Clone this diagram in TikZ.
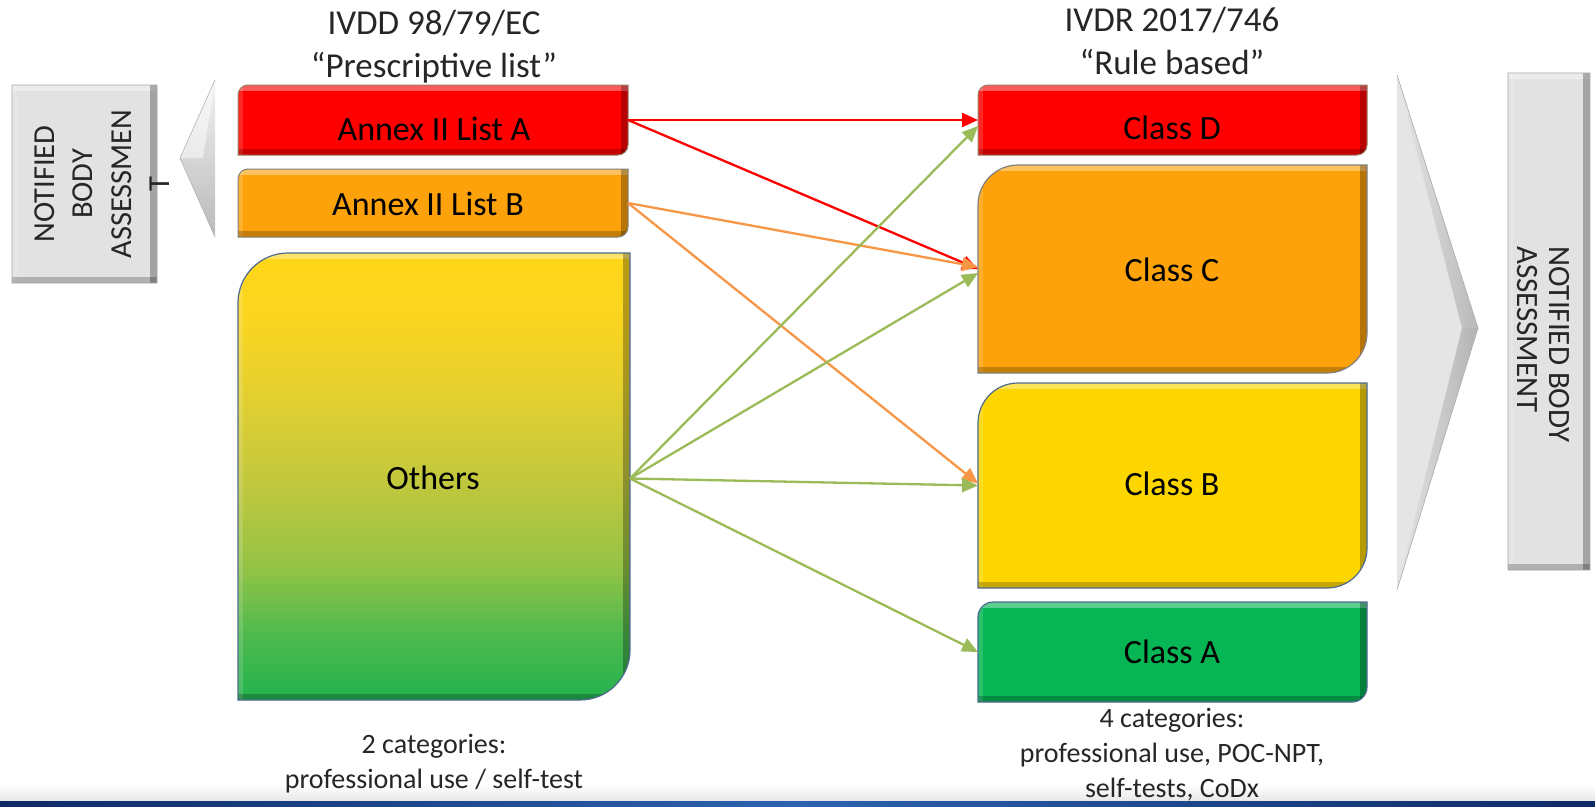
\documentclass[tikz,border=0pt]{standalone}
\usepackage{fontspec}
\setmainfont{Carlito}
\usetikzlibrary{arrows.meta,backgrounds,calc}
\definecolor{cred}{HTML}{FF0000}
\definecolor{corange}{HTML}{FDA20A}
\definecolor{cyellow}{HTML}{FDD600}
\definecolor{cgreen}{HTML}{06B553}
\definecolor{ared}{HTML}{FF0000}
\definecolor{aorange}{HTML}{F79646}
\definecolor{agreen}{HTML}{9BBB59}
\definecolor{nbgray}{HTML}{E2E2E2}
\definecolor{bluegray}{HTML}{4F6A8F}
\definecolor{txt}{HTML}{262626}
\definecolor{navyA}{HTML}{0E2A66}
\definecolor{navyB}{HTML}{2E62B0}
\definecolor{g0}{HTML}{22B24D}
\definecolor{g1}{HTML}{50BA4E}
\definecolor{g2}{HTML}{95C345}
\definecolor{g3}{HTML}{C4C83D}
\definecolor{g4}{HTML}{E6D02E}
\definecolor{g5}{HTML}{FAD520}
\definecolor{g6}{HTML}{FFD718}
\pgfdeclareverticalshading{othshade}{100bp}{color(0bp)=(g0); color(25bp)=(g0); color(32.5bp)=(g1); color(40bp)=(g2); color(50bp)=(g3); color(60bp)=(g4); color(67.5bp)=(g5); color(75bp)=(g6); color(100bp)=(g6)}
% path of a rectangle with rounded top-left and bottom-right corners
\newcommand\rdpath[2]{([yshift=-#2]#1.north west) arc[start angle=180,end angle=90,radius=#2] -- (#1.north east) -- ([yshift=#2]#1.south east) arc[start angle=0,end angle=-90,radius=#2] -- (#1.south west) -- cycle}
\newcommand\bevel[2]{%
  \begin{scope}
    \clip \rdpath{#1}{#2};
    \fill[white,opacity=.35] ([yshift=1pt]#1.north west) rectangle ([yshift=-6pt]#1.north east);
    \fill[white,opacity=.15] ([xshift=-1pt]#1.north west) rectangle ([xshift=5pt]#1.south west);
    \fill[black,opacity=.28] ([xshift=-7pt]#1.north east) rectangle ([xshift=1pt]#1.south east);
    \fill[black,opacity=.22] ([yshift=6pt]#1.south west) rectangle ([yshift=-1pt]#1.south east);
  \end{scope}}
\tikzset{
  x=1pt, y=-1pt,
  holder/.style={inner sep=0pt, outer sep=0pt},
  boxtext/.style={inner sep=0pt, font=\fontsize{34}{40}\selectfont, text=black},
  title/.style={inner sep=0pt, align=center, font=\fontsize{35}{43}\selectfont, text=txt},
  note/.style={inner sep=0pt, align=center, font=\fontsize{28}{35}\selectfont, text=txt},
  conn/.style={line width=2.3pt, -{Triangle[length=16pt,width=14pt]}},
}
\begin{document}
\begin{tikzpicture}
\useasboundingbox (0,0) rectangle (1595,806);
\fill[white] (0,0) rectangle (1595,806);

% bottom strip
\shade[top color=white, bottom color=gray!18] (0,784) rectangle (1595,801);
\shade[left color=navyA, right color=navyA, middle color=navyB] (0,801) rectangle (1595,806);

% ---------- holders ----------
\node[holder, minimum width=145pt, minimum height=198pt] (nbL) at (84.5,184) {};
\node[holder, minimum width=390pt, minimum height=70pt] (aA) at (433,120) {};
\node[holder, minimum width=390pt, minimum height=68pt] (aB) at (433,203) {};
\node[holder, minimum width=392pt, minimum height=447pt] (oth) at (434,476.5) {};
\node[holder, minimum width=389pt, minimum height=70pt] (cD) at (1172.5,120) {};
\node[holder, minimum width=389pt, minimum height=208pt] (cC) at (1172.5,269) {};
\node[holder, minimum width=389pt, minimum height=205pt] (cB) at (1172.5,485.5) {};
\node[holder, minimum width=389pt, minimum height=100pt] (cA) at (1172.5,652) {};
\node[holder, minimum width=82pt, minimum height=497pt] (nbR) at (1549,321.5) {};

% ---------- notified body boxes ----------
\fill[nbgray] \rdpath{nbL}{0.01pt};
\bevel{nbL}{0.01pt}
\draw[gray!70, line width=0.8pt] \rdpath{nbL}{0.01pt};
\fill[nbgray] \rdpath{nbR}{0.01pt};
\bevel{nbR}{0.01pt}
\draw[gray!70, line width=0.8pt] \rdpath{nbR}{0.01pt};

% triangles
\coordinate (lt1) at (215,80);
\coordinate (lt2) at (180,158);
\coordinate (lt3) at (215,237);
\shade[top color=gray!10, bottom color=gray!55] (lt1) -- (lt2) -- (lt3) -- cycle;
\fill[white,opacity=.5] (lt1) -- (lt2) -- (203,158) -- cycle;
\draw[gray!60, line width=0.6pt] (lt1) -- (lt2) -- (lt3);
\coordinate (rt1) at (1397,75);
\coordinate (rt2) at (1478,328);
\coordinate (rt3) at (1397,590);
\fill[gray!20] (rt1) -- (rt2) -- (rt3) -- cycle;
\shade[left color=gray!20, right color=gray!55] (rt1) -- (rt2) -- (1462,328) -- cycle;
\shade[left color=gray!20, right color=gray!60] (rt3) -- (rt2) -- (1462,328) -- cycle;
\draw[gray!65, line width=0.6pt] (rt1) -- (rt2) -- (rt3);

% ---------- coloured boxes ----------
\fill[cred] \rdpath{aA}{10pt};
\bevel{aA}{10pt}
\draw[gray!80!orange, line width=1pt] \rdpath{aA}{10pt};

\fill[corange] \rdpath{aB}{10pt};
\bevel{aB}{10pt}
\draw[gray, line width=1pt] \rdpath{aB}{10pt};

\shade[shading=othshade] \rdpath{oth}{50pt};
\bevel{oth}{50pt}
\draw[bluegray, line width=1.2pt] \rdpath{oth}{50pt};

\fill[cred] \rdpath{cD}{10pt};
\bevel{cD}{10pt}
\draw[gray!80!orange, line width=1pt] \rdpath{cD}{10pt};

\fill[corange] \rdpath{cC}{40pt};
\bevel{cC}{40pt}
\draw[gray, line width=1.2pt] \rdpath{cC}{40pt};

\fill[cyellow] \rdpath{cB}{40pt};
\bevel{cB}{40pt}
\draw[bluegray, line width=1.2pt] \rdpath{cB}{40pt};

\fill[cgreen] \rdpath{cA}{15pt};
\bevel{cA}{15pt}
\draw[bluegray, line width=1.2pt] \rdpath{cA}{15pt};

% ---------- texts ----------
\node[boxtext] (taA) at (434,129) {Annex II List A};
\node[boxtext] (taB) at (428,204) {Annex II List B};
\node[boxtext] (toth) at (433,478) {Others};
\node[boxtext] (tcD) at (1172,128) {Class D};
\node[boxtext] (tcC) at (1172,270) {Class C};
\node[boxtext] (tcB) at (1172,484) {Class B};
\node[boxtext] (tcA) at (1172,652) {Class A};

\node[title] (tl) at (434,47) {IVDD 98/79/EC\\“Prescriptive list”};
\node[title] (tr) at (1172,41) {IVDR 2017/746\\“Rule based”};

\node[note] (nl) at (434,764) {2 categories:\\professional use / self-test};
\node[note] (nr) at (1172,755) {4 categories:\\professional use, POC-NPT,\\self-tests, CoDx};

\node[inner sep=0pt, rotate=90, align=center, text=txt,
      font=\fontsize{30.5}{38.5}\selectfont] (nbLt) at (102,184)
      {NOTIFIED\\BODY\\ASSESSMEN\\T};
\node[inner sep=0pt, rotate=-90, align=left, anchor=north west, text=txt,
      font=\fontsize{31}{32}\selectfont] (nbRt) at (1570,246)
      {NOTIFIED BODY\\ASSESSMENT};

% ---------- connectors ----------
\draw[conn, ared] (aA.east) -- (cD.west);
\draw[conn, ared] (aA.east) -- (cC.west);
\draw[conn, aorange] (aB.east) -- ([yshift=2pt]cC.west);
\draw[conn, aorange] (aB.east) -- ([yshift=2pt]cB.west);
\draw[conn, agreen] ([yshift=-2pt]oth.east) -- ([yshift=-6pt]cD.west);
\draw[conn, agreen] ([yshift=-2pt]oth.east) -- ([yshift=-4pt]cC.west);
\draw[conn, agreen] ([yshift=-2pt]oth.east) -- (cB.west);
\draw[conn, agreen] ([yshift=-2pt]oth.east) -- (cA.west);
\end{tikzpicture}
\end{document}
